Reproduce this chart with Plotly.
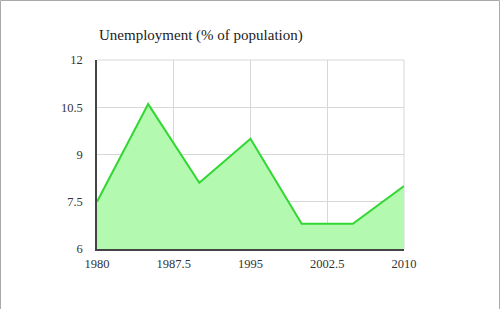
import plotly.graph_objects as go

years = [1980, 1985, 1990, 1995, 2000, 2005, 2010]
unemployment = [7.5, 10.6, 8.1, 9.5, 6.8, 6.8, 8.0]
x_ticks = [1980, 1987.5, 1995, 2002.5, 2010]
x_tick_labels = ["1980", "1987.5", "1995", "2002.5", "2010"]
y_ticks = [6, 7.5, 9, 10.5, 12]
y_tick_labels = ["6", "7.5", "9", "10.5", "12"]
title_text = "Unemployment (% of population)"

W, H = 500, 309
L, R, T, B = 97, 96, 60, 60
pw, ph = W - L - R, H - T - B

font_family = "Liberation Serif, DejaVu Serif, serif"

fig = go.Figure()
fig.add_trace(go.Scatter(
    x=years, y=unemployment, mode="lines",
    line=dict(color="#33d633", width=2),
    fill="tozeroy", fillcolor="#b3f9b0",
    hoverinfo="skip", showlegend=False,
))

border = dict(color="#aaaaaa", width=1)
xl, xr = (-L + 0.5) / pw, (pw + R - 0.5) / pw
yt, yb = (ph + T - 0.5) / ph, -B / ph - 0.05

fig.update_layout(
    width=W, height=H,
    margin=dict(l=L, r=R, t=T, b=B),
    paper_bgcolor="white", plot_bgcolor="white",
    font=dict(family=font_family, color="#333333", size=12),
    showlegend=False,
    xaxis=dict(
        range=[1980, 2010], tickvals=x_ticks, ticktext=x_tick_labels,
        showgrid=True, gridcolor="#d8d8d8", gridwidth=1,
        showline=True, linecolor="#444444", linewidth=1.5,
        zeroline=False, ticks="", ticklabelstandoff=2,
        tickfont=dict(size=12.5, family=font_family, color="#333333"),
        fixedrange=True,
    ),
    yaxis=dict(
        range=[6, 12], tickvals=y_ticks, ticktext=y_tick_labels,
        showgrid=True, gridcolor="#d8d8d8", gridwidth=1,
        showline=True, linecolor="#444444", linewidth=1.5,
        zeroline=False, ticks="", ticklabelstandoff=10,
        tickfont=dict(size=12.5, family=font_family, color="#333333"),
        fixedrange=True,
    ),
    annotations=[dict(
        text=title_text, xref="paper", yref="paper",
        x=0, y=1, xanchor="left", yanchor="bottom", yshift=14,
        showarrow=False,
        font=dict(size=15, family=font_family, color="#222222"),
    )],
    shapes=[
        dict(type="line", xref="paper", yref="paper", x0=1, x1=1, y0=0, y1=1,
             line=dict(color="#d8d8d8", width=1), layer="below"),
        dict(type="line", xref="paper", yref="paper", x0=0, x1=1, y0=1, y1=1,
             line=dict(color="#d8d8d8", width=1), layer="below"),
        # outer image border: left, top, right (no bottom)
        dict(type="line", xref="paper", yref="paper", x0=xl, x1=xl, y0=yb, y1=yt, line=border),
        dict(type="line", xref="paper", yref="paper", x0=xl, x1=xr, y0=yt, y1=yt, line=border),
        dict(type="line", xref="paper", yref="paper", x0=xr, x1=xr, y0=yb, y1=yt, line=border),
    ],
)

fig.write_html("out.html")
